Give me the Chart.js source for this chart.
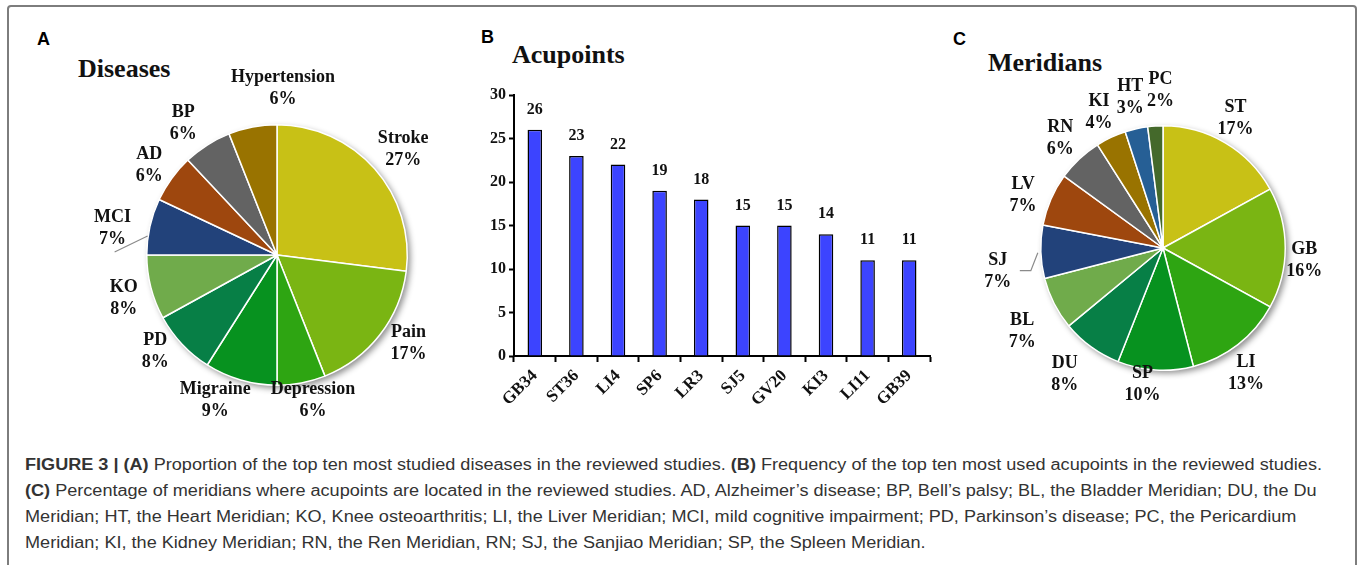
<!DOCTYPE html>
<html>
<head>
<meta charset="utf-8">
<script src="https://cdn.jsdelivr.net/npm/chart.js@4.4.0/dist/chart.umd.min.js"></script>
<style>
  body { margin: 0; width: 1358px; height: 565px; background: #fff; overflow: hidden; position: relative; }
  #frame { position: absolute; left: 7px; top: 5px; width: 1346px; height: 620px; border: 2px solid #7d7d7d; border-radius: 4px; }
  .letter { position: absolute; font: bold 18px "Liberation Sans", Arial, sans-serif; color: #000; }
  .title { position: absolute; font: bold 26px "Liberation Serif", "Times New Roman", serif; color: #111; white-space: nowrap; }
  canvas { position: absolute; }
  .cap { position: absolute; left: 25px; white-space: nowrap; font: 16px "Liberation Sans", Arial, sans-serif; color: #333; transform-origin: 0 50%; }
  .cap b { font-weight: bold; }
</style>
</head>
<body>
<div id="frame"></div>

<div class="letter" style="left:37px; top:29px;">A</div>
<div class="title" style="left:78px; top:54px;">Diseases</div>
<div class="letter" style="left:481px; top:27px;">B</div>
<div class="title" style="left:512px; top:40px;">Acupoints</div>
<div class="letter" style="left:953px; top:29px;">C</div>
<div class="title" style="left:988px; top:48px;">Meridians</div>

<canvas id="pieA" width="450" height="420" style="left:8px; top:10px;"></canvas>
<canvas id="barB" width="480" height="350" style="left:470px; top:80px;"></canvas>
<canvas id="pieC" width="410" height="390" style="left:940px; top:40px;"></canvas>

<div class="cap" style="top:456px;"><b>FIGURE 3 | (A)</b> Proportion of the top ten most studied diseases in the reviewed studies. <b>(B)</b> Frequency of the top ten most used acupoints in the reviewed studies.</div>
<div class="cap" style="top:482px;"><b>(C)</b> Percentage of meridians where acupoints are located in the reviewed studies. AD, Alzheimer’s disease; BP, Bell’s palsy; BL, the Bladder Meridian; DU, the Du</div>
<div class="cap" style="top:508px;">Meridian; HT, the Heart Meridian; KO, Knee osteoarthritis; LI, the Liver Meridian; MCI, mild cognitive impairment; PD, Parkinson’s disease; PC, the Pericardium</div>
<div class="cap" style="top:534px;">Meridian; KI, the Kidney Meridian; RN, the Ren Meridian, RN; SJ, the Sanjiao Meridian; SP, the Spleen Meridian.</div>

<script>
// Panel A - diseases (percent)
const diseaseLabels = ['Stroke', 'Pain', 'Depression', 'Migraine', 'PD', 'KO', 'MCI', 'AD', 'BP', 'Hypertension'];
const diseaseValues = [27, 17, 6, 9, 8, 8, 7, 6, 6, 6];

// Panel B - acupoints (frequency)
const acupointLabels = ['GB34', 'ST36', 'LI4', 'SP6', 'LR3', 'SJ5', 'GV20', 'KI3', 'LI11', 'GB39'];
const acupointValues = [26, 23, 22, 19, 18, 15, 15, 14, 11, 11];
const acupointTicks = [0, 5, 10, 15, 20, 25, 30];

// Panel C - meridians (percent)
const meridianLabels = ['ST', 'GB', 'LI', 'SP', 'DU', 'BL', 'SJ', 'LV', 'RN', 'KI', 'HT', 'PC'];
const meridianValues = [17, 16, 13, 10, 8, 7, 7, 7, 6, 4, 3, 2];

// colours shared by both pies (office palette)
const sliceColors = ['#c8c116', '#7ab513', '#2ea512', '#07921f', '#077f46', '#70ab4b',
                     '#22427a', '#9e470e', '#636363', '#997300', '#265f95', '#44692b'];

const serif = '"Liberation Serif", "Times New Roman", serif';

// shadow under the pie + labels outside each slice
const pieLabels = {
  id: 'pieLabels',
  beforeDatasetsDraw(chart) {
    const arc = chart.getDatasetMeta(0).data[0];
    if (!arc) return;
    const p = arc.getProps(['x', 'y', 'outerRadius'], true);
    const c = chart.ctx;
    c.save();
    c.shadowColor = 'rgba(0,0,0,0.45)';
    c.shadowBlur = 6;
    c.shadowOffsetX = 3;
    c.shadowOffsetY = 3;
    c.beginPath();
    c.arc(p.x, p.y, p.outerRadius, 0, Math.PI * 2);
    c.fillStyle = '#fff';
    c.fill();
    c.restore();
  },
  afterDatasetsDraw(chart, args, opts) {
    const meta = chart.getDatasetMeta(0);
    const labels = chart.data.labels;
    const vals = chart.data.datasets[0].data;
    const total = vals.reduce((a, b) => a + b, 0);
    const c = chart.ctx;
    c.save();
    c.font = 'bold 18px ' + serif;
    c.fillStyle = '#111';
    c.textAlign = 'center';
    c.textBaseline = 'middle';
    meta.data.forEach((arc, i) => {
      const p = arc.getProps(['x', 'y', 'startAngle', 'endAngle', 'outerRadius'], true);
      const mid = (p.startAngle + p.endAngle) / 2;
      const d = p.outerRadius + opts.gap;
      const n = opts.nudge[labels[i]] || [0, 0];
      const lx = p.x + Math.cos(mid) * d + n[0];
      const ly = p.y + Math.sin(mid) * d + n[1];
      c.fillText(labels[i], lx, ly - 11);
      c.fillText(Math.round(vals[i] / total * 100) + '%', lx, ly + 11);
      const lead = opts.leaders[labels[i]];
      if (lead) {
        c.strokeStyle = '#8a8a8a';
        c.lineWidth = 1.2;
        c.beginPath();
        lead.forEach((pt, k) => {
          if (k === 0) c.moveTo(lx + pt[0], ly + pt[1]);
          else c.lineTo(lx + pt[0], ly + pt[1]);
        });
        c.stroke();
      }
    });
    c.restore();
  }
};

// value above each bar
const barValues = {
  id: 'barValues',
  afterDatasetsDraw(chart) {
    const meta = chart.getDatasetMeta(0);
    const vals = chart.data.datasets[0].data;
    const c = chart.ctx;
    c.save();
    c.font = 'bold 16px ' + serif;
    c.fillStyle = '#111';
    c.textAlign = 'center';
    c.textBaseline = 'middle';
    meta.data.forEach((bar, i) => c.fillText(vals[i], bar.x, bar.y - 20));
    c.restore();
  }
};

function pieChart(id, labels, values, pad, gap, nudge, leaders) {
  return new Chart(document.getElementById(id), {
    type: 'pie',
    data: {
      labels: labels,
      datasets: [{
        data: values,
        backgroundColor: sliceColors.slice(0, values.length),
        borderColor: '#ffffff',
        borderWidth: 1.5
      }]
    },
    options: {
      responsive: false,
      animation: false,
      layout: { padding: pad },
      plugins: {
        legend: { display: false },
        tooltip: { enabled: false },
        pieLabels: { gap: gap, nudge: nudge, leaders: leaders }
      }
    },
    plugins: [pieLabels]
  });
}

pieChart('pieA', diseaseLabels, diseaseValues,
  { left: 138, top: 114, right: 50, bottom: 44 }, 30,
  { Hypertension: [36, -9], Migraine: [-17, -9], PD: [-5, -13], Depression: [6, -12], Pain: [5, -10],
    MCI: [-8, 8], BP: [-8, 4], Stroke: [6, 0], AD: [2, 5], KO: [2, 3] },
  { MCI: [[2, 24], [35, 8]] });

pieChart('pieC', meridianLabels, meridianValues,
  { left: 100, top: 85, right: 64, bottom: 59 }, 28,
  { GB: [-9, 12], LI: [-9, 7], SP: [-11, -14], DU: [-10, 5], BL: [-7, 15], SJ: [-15, 19],
    LV: [-2, 7], PC: [7, -8], ST: [-4, 0], HT: [0, -4] },
  { SJ: [[22, -1], [33, -1], [40, -19]] });

new Chart(document.getElementById('barB'), {
  type: 'bar',
  data: {
    labels: acupointLabels,
    datasets: [{
      data: acupointValues,
      backgroundColor: '#3c44ff',
      borderColor: '#000',
      borderWidth: 1.5,
      barPercentage: 0.35,
      categoryPercentage: 1
    }]
  },
  options: {
    responsive: false,
    animation: false,
    layout: { padding: { top: 15, right: 20, left: 0, bottom: 0 } },
    plugins: { legend: { display: false }, tooltip: { enabled: false } },
    scales: {
      y: {
        min: 0,
        max: 30,
        afterBuildTicks: s => { s.ticks = acupointTicks.map(v => ({ value: v })); },
        border: { display: true, color: '#000', width: 2 },
        grid: { drawOnChartArea: false, drawTicks: true, tickLength: 5, tickColor: '#000', tickWidth: 2 },
        ticks: { color: '#111', padding: 3, font: { family: serif, weight: 'bold', size: 16 } },
        afterFit: s => { s.width = 44; }
      },
      x: {
        border: { display: true, color: '#000', width: 2 },
        grid: { drawOnChartArea: false, drawTicks: true, tickLength: 6, tickColor: '#000', tickWidth: 2, offset: true },
        ticks: { color: '#111', padding: 4, minRotation: 45, maxRotation: 45, font: { family: serif, weight: 'bold', size: 17 } },
        afterFit: s => { s.height = 74; }
      }
    }
  },
  plugins: [barValues]
});

// one horizontal squeeze for the whole caption, taken from the first line
const caps = document.querySelectorAll('.cap');
const capScale = 1297 / caps[0].getBoundingClientRect().width;
caps.forEach(el => { el.style.transform = 'scaleX(' + capScale + ')'; });
</script>
</body>
</html>
